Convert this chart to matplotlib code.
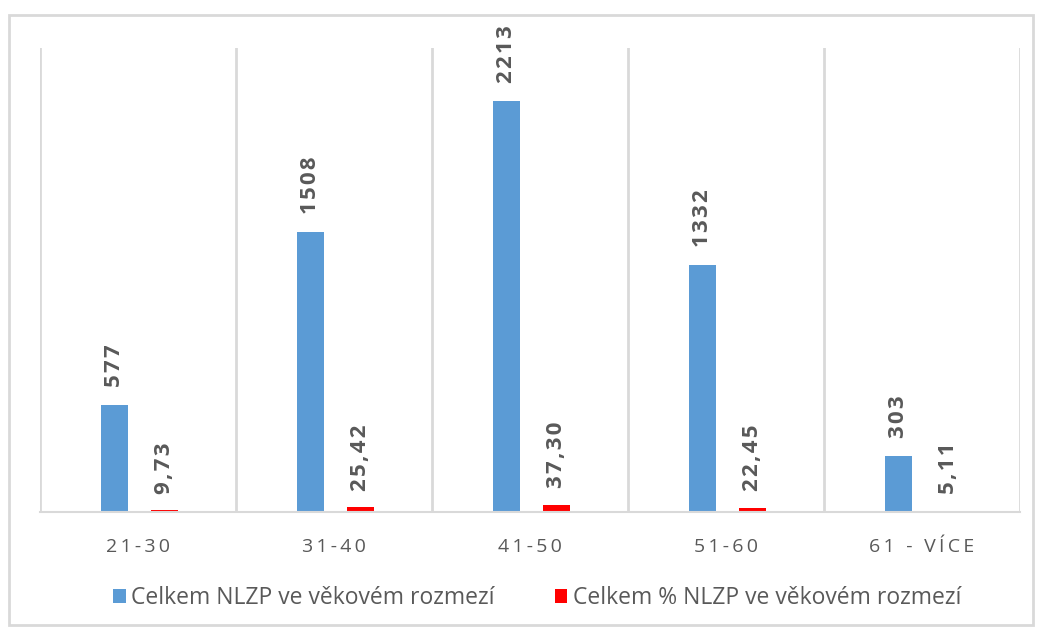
import matplotlib
matplotlib.use("Agg")
import matplotlib.pyplot as plt
import numpy as np
from matplotlib.patches import Rectangle

categories = ["21-30", "31-40", "41-50", "51-60", "61 - VÍCE"]
counts = [577, 1508, 2213, 1332, 303]
percents = [9.73, 25.42, 37.30, 22.45, 5.11]
percent_labels = ["9,73", "25,42", "37,30", "22,45", "5,11"]
series_names = ["Celkem NLZP ve věkovém rozmezí", "Celkem % NLZP ve věkovém rozmezí"]

BLUE = "#5B9BD5"
RED = "#FF0000"
TXT = "#595959"
GRID = "#D9D9D9"

fig = plt.figure(figsize=(10.37, 6.33), dpi=100)
fig.patch.set_facecolor("white")
fig.add_artist(Rectangle((9/1037, 1-625/633), (1033-9)/1037, (625-15)/633,
                         transform=fig.transFigure, fill=False, edgecolor=GRID, lw=2))

ax = fig.add_axes([40/1037, 1-512/633, (1020-40)/1037, (512-48)/633])
x = np.arange(len(categories))
w = 0.138
b1 = ax.bar(x - 0.12, counts, w, color=BLUE, label=series_names[0])
b2 = ax.bar(x + 0.135, percents, w, color=RED, label=series_names[1])

ax.set_xlim(-0.5, len(categories) - 0.5)
ax.set_ylim(0, 2500)
ax.set_yticks([])
for s in ["top", "left", "right"]:
    ax.spines[s].set_visible(False)
ax.spines["bottom"].set_color(GRID)
ax.spines["bottom"].set_linewidth(1.5)
for b in np.arange(-0.5, len(categories), 1.0):
    ax.axvline(b, color=GRID, lw=2, zorder=0)

def spaced(s, sep="\u2009"):
    return sep.join(s)

ax.set_xticks(x)
ax.set_xticklabels([spaced(c) for c in categories], fontsize=14, color=TXT,
                   family=["Open Sans", "DejaVu Sans"])
ax.tick_params(axis="x", length=0, pad=19)

lab_font = ["Open Sans", "DejaVu Sans"]
for rect, v in zip(b1, counts):
    ax.annotate(spaced(str(v), "\u200a"), (rect.get_x() + rect.get_width()/2, rect.get_height()),
                xytext=(0, 13), textcoords="offset points", rotation=90,
                ha="center", va="bottom", fontsize=16, fontweight="bold", color=TXT,
                family=lab_font)
for rect, lab in zip(b2, percent_labels):
    ax.annotate(spaced(lab, "\u200a"), (rect.get_x() + rect.get_width()/2, rect.get_height()),
                xytext=(0, 12), textcoords="offset points", rotation=90,
                ha="center", va="bottom", fontsize=16, fontweight="bold", color=TXT,
                family=lab_font)

leg = fig.legend(handles=[b1, b2], labels=series_names, loc="center",
                 bbox_to_anchor=(0.518, 1-598/633), ncol=2, frameon=False,
                 handlelength=0.55, handleheight=0.55, handletextpad=0.25,
                 columnspacing=2.6, labelcolor=TXT,
                 prop={"family": ["Open Sans", "DejaVu Sans"], "size": 16.5})

fig.savefig("out.png", dpi=100)
